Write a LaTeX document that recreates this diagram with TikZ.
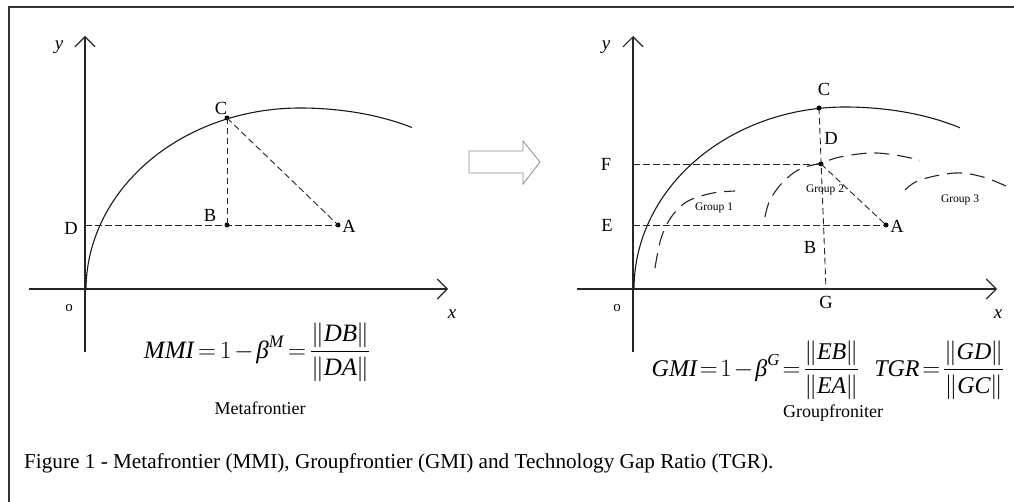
\documentclass[tikz,border=0pt]{standalone}
\usepackage{amsmath}
\usepackage{fontspec}
\setmainfont{Liberation Serif}
\usetikzlibrary{arrows.meta}
\newcommand{\ti}[1]{\text{\itshape #1}}
\newcommand{\nrm}[1]{\|\ti{#1}\mkern-0.5mu\|}
\begin{document}
\begin{tikzpicture}[x=1pt,y=-1pt,
  axisline/.style={line width=1.1pt,color=black!85,-{Straight Barb[length=10pt,width=20pt,line width=1.1pt]}},
  frontier/.style={line width=1.1pt,color=black!90},
  groupline/.style={line width=1.1pt,color=black!85,dash pattern=on 15pt off 8pt},
  guide/.style={line width=0.9pt,color=black!85,dash pattern=on 6.5pt off 3.5pt},
  lbl/.style={inner sep=0pt,font=\fontsize{18.5}{22}\selectfont},
  axlbl/.style={inner sep=0pt,font=\fontsize{19}{22}\selectfont\itshape},
  olbl/.style={inner sep=0pt,font=\fontsize{15}{18}\selectfont},
  grplbl/.style={inner sep=0pt,font=\fontsize{11.5}{14}\selectfont},
  formula/.style={inner sep=0pt,font=\fontsize{25}{30}\selectfont},
  formulasm/.style={inner sep=0pt,font=\fontsize{24}{29}\selectfont},
  subcap/.style={inner sep=0pt,font=\fontsize{18}{22}\selectfont},
  dot/.style={circle,fill=black,inner sep=0pt,minimum size=5pt}]
\useasboundingbox (0,0) rectangle (1014,502);
% frame
\draw[line width=1.5pt,color=black!80] (1014,7) -- (9,7) -- (9,502);

% ---------------- left panel ----------------
\coordinate (Lxs) at (29,289);
\coordinate (Lxe) at (448,289);
\coordinate (Lys) at (85,352);
\coordinate (Lye) at (85,36);
\draw[axisline] (Lxs) -- (Lxe);
\draw[axisline] (Lys) -- (Lye);
\node[axlbl] (Ly) at (59,47) {y};
\node[axlbl] (Lx) at (452,314) {x};
\node[olbl] (Lo) at (69,308) {o};
\draw[frontier] plot[domain=180:270,samples=70] ({300+214*cos(\x)},{290+182*sin(\x)})
  -- plot[domain=270:308.5,samples=30] ({300+180*cos(\x)},{198+90*sin(\x)});
\node[dot] (LC) at (227,118) {};
\node[dot] (LB) at (227,225) {};
\node[dot] (LA) at (338,225) {};
\coordinate (LD) at (85,225);
\draw[guide] (LD) -- (LA.center);
\draw[guide] (LC.center) -- (LB.center);
\draw[guide] (LC.center) -- (LA.center);
\node[lbl] (LCl) at (221,108) {C};
\node[lbl] (LBl) at (210,215) {B};
\node[lbl] (LAl) at (349,226) {A};
\node[lbl] (LDl) at (71,228) {D};
\node[formula] (Lf) at (257,352) {\thickmuskip=3mu\medmuskip=2mu$\ti{MMI}=1-\ti{β}^{\ti{M}}=\dfrac{\nrm{DB}}{\nrm{DA}}$};
\node[subcap] (Lcap) at (260,408) {Metafrontier};

% ---------------- block arrow ----------------
\draw[line width=0.8pt,color=black!45] (469,151) -- (523,151) -- (523,141) -- (540,162) -- (523,184) -- (523,173) -- (469,173) -- cycle;

% ---------------- right panel ----------------
\coordinate (Rxs) at (577,289);
\coordinate (Rxe) at (997,289);
\coordinate (Rys) at (633,352);
\coordinate (Rye) at (633,36);
\draw[axisline] (Rxs) -- (Rxe);
\draw[axisline] (Rys) -- (Rye);
\node[axlbl] (Ry) at (606,47) {y};
\node[axlbl] (Rx) at (998,314) {x};
\node[olbl] (Ro) at (617,308) {o};
\draw[frontier] plot[domain=180:270,samples=70] ({845+211*cos(\x)},{289+182*sin(\x)})
  -- plot[domain=270:309.7,samples=30] ({845+180*cos(\x)},{197+90*sin(\x)});
\draw[groupline] plot[smooth,tension=0.6] coordinates {(655,268) (660,242) (667,224) (677,210) (690,200) (713,193) (735,191)};
\draw[groupline] plot[smooth,tension=0.6] coordinates {(765,217) (770,200) (783,182) (800,169) (821,163) (840,157) (870,153) (895,155) (920,160)};
\draw[groupline] plot[smooth,tension=0.6] coordinates {(905,190) (920,180) (955,173) (983,177) (1008,187)};
\node[dot] (RC) at (819,108) {};
\node[dot] (RD) at (821,164) {};
\node[dot] (RA) at (886,225) {};
\coordinate (RG) at (826,289);
\coordinate (RF) at (633,164);
\coordinate (RE) at (633,225);
\draw[guide] (RC.center) -- (RG);
\draw[guide] (RF) -- (RD.center);
\draw[guide] (RE) -- (RA.center);
\draw[guide] (RD.center) -- (RA.center);
\node[lbl] (RCl) at (824,89) {C};
\node[lbl] (RDl) at (831,138) {D};
\node[lbl] (RFl) at (606,164) {F};
\node[lbl] (REl) at (607,225) {E};
\node[lbl] (RAl) at (897,226) {A};
\node[lbl] (RBl) at (810,247) {B};
\node[lbl] (RGl) at (826,302) {G};
\node[grplbl] (G1) at (714,208) {Group 1};
\node[grplbl] (G2) at (825,190) {Group 2};
\node[grplbl] (G3) at (960,200) {Group 3};
\node[formulasm] (Rf) at (828,370) {\thickmuskip=2mu\medmuskip=1.5mu$\ti{GMI}=1-\ti{β}^{\ti{G}}=\dfrac{\nrm{EB}}{\nrm{EA}}\hspace{15pt}\ti{TGR}=\dfrac{\nrm{GD}}{\nrm{GC}}$};
\node[subcap] (Rcap) at (833,413) {Groupfroniter};

% ---------------- caption ----------------
\node[anchor=west,inner sep=0pt,font=\fontsize{21.2}{25}\selectfont] (cap) at (24,463) {Figure 1 - Metafrontier (MMI), Groupfrontier (GMI) and Technology Gap Ratio (TGR).};
\end{tikzpicture}
\end{document}
